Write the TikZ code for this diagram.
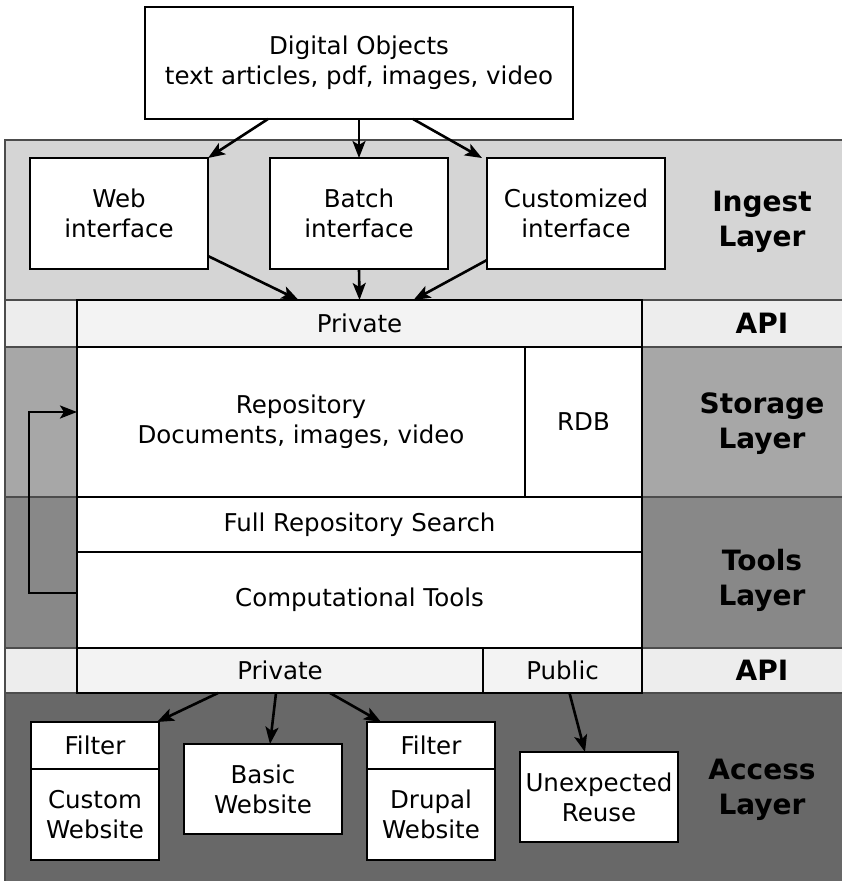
\documentclass[tikz,border=0pt]{standalone}
\usepackage{fontspec}
\setmainfont{DejaVu Sans}
\usetikzlibrary{arrows.meta}

\definecolor{ingestgray}{HTML}{D5D5D5}
\definecolor{apigray}{HTML}{EDEDED}
\definecolor{storagegray}{HTML}{A7A7A7}
\definecolor{toolsgray}{HTML}{888888}
\definecolor{accessgray}{HTML}{686868}
\definecolor{privfill}{HTML}{F3F3F3}

\tikzset{
  band/.style={draw=black!70, line width=1.4pt},
  blk/.style={draw, line width=2pt, fill=white, inner sep=0pt, outer sep=0pt,
    align=center, font=\fontsize{24.5}{30}\selectfont},
  layerlbl/.style={align=center, font=\fontsize{28}{35}\selectfont\bfseries},
  arr/.style={-{Stealth[length=17pt,width=13pt,inset=4pt]}, line width=2.6pt},
}

\begin{document}
\begin{tikzpicture}[x=1pt,y=-1pt]
  \useasboundingbox (0,0) rectangle (841,881);
  % layer bands
  \fill[white] (0,0) rectangle (841,881);
  \draw[band, fill=ingestgray]  (5,140) rectangle (845,300);
  \draw[band, fill=apigray]     (5,300) rectangle (845,347);
  \draw[band, fill=storagegray] (5,347) rectangle (845,497);
  \draw[band, fill=toolsgray]   (5,497) rectangle (845,648);
  \draw[band, fill=apigray]     (5,648) rectangle (845,693);
  \draw[band, fill=accessgray]  (5,693) rectangle (845,885);
  % layer labels
  \node[layerlbl] (ingestlbl)  at (762,222)   {Ingest\\Layer};
  \node[layerlbl] (api1lbl)    at (762,323.5) {API};
  \node[layerlbl] (storagelbl) at (762,424)   {Storage\\Layer};
  \node[layerlbl] (toolslbl)   at (762,580)   {Tools\\Layer};
  \node[layerlbl] (api2lbl)    at (762,670.5) {API};
  \node[layerlbl] (accesslbl)  at (762,790)   {Access\\Layer};
  % source
  \node[blk, minimum width=428pt, minimum height=112pt] (digital) at (359,63)
    {Digital Objects\\text articles, pdf, images, video};
  % ingest interfaces
  \node[blk, minimum width=178pt, minimum height=111pt] (web)   at (119,213.5) {Web\\interface};
  \node[blk, minimum width=178pt, minimum height=111pt] (batch) at (359,213.5) {Batch\\interface};
  \node[blk, minimum width=178pt, minimum height=111pt] (cust)  at (576,213.5) {Customized\\interface};
  % core stack
  \node[blk, fill=privfill, minimum width=565pt, minimum height=47pt] (privin) at (359.5,323.5) {Private};
  \node[blk, minimum width=448pt, minimum height=150pt] (repo) at (301,422)
    {Repository\\Documents, images, video};
  \node[blk, minimum width=117pt, minimum height=150pt] (rdb) at (583.5,422) {RDB};
  \node[blk, minimum width=565pt, minimum height=55pt] (search) at (359.5,524.5) {Full Repository Search};
  \node[blk, minimum width=565pt, minimum height=96pt] (comp) at (359.5,600) {Computational Tools};
  \node[blk, fill=privfill, minimum width=406pt, minimum height=45pt] (privout) at (280,670.5) {Private};
  \node[blk, fill=privfill, minimum width=159pt, minimum height=45pt] (pub) at (562.5,670.5) {Public};
  % access clients
  \node[blk, minimum width=128pt, minimum height=47pt] (filtcust) at (95,745.5) {Filter};
  \node[blk, minimum width=128pt, minimum height=91pt] (custweb)  at (95,814.5) {Custom\\Website};
  \node[blk, minimum width=158pt, minimum height=90pt] (basic)    at (263,789) {Basic\\Website};
  \node[blk, minimum width=128pt, minimum height=47pt] (filtdrup) at (431,745.5) {Filter};
  \node[blk, minimum width=128pt, minimum height=91pt] (drupweb)  at (431,814.5) {Drupal\\Website};
  \node[blk, minimum width=158pt, minimum height=90pt] (reuse)    at (599,797) {Unexpected\\Reuse};
  % ingest arrows
  \draw[arr] ([xshift=-91pt]digital.south) -- (web.north east);
  \draw[arr] (digital.south) -- (batch.north);
  \draw[arr] ([xshift=54pt]digital.south) -- ([xshift=-5pt]cust.north west);
  \draw[arr] ([yshift=13pt]web.south east) -- ([xshift=-61pt]privin.north);
  \draw[arr] (batch.south) -- (privin.north);
  \draw[arr] ([yshift=9pt]cust.south west) -- ([xshift=54pt]privin.north);
  % feedback loop
  \draw[arr] ([yshift=7pt]comp.west) -- ++(-48,0) |- ([yshift=10pt]repo.west);
  % access arrows
  \draw[arr] ([xshift=-62pt]privout.south) -- ([xshift=-2pt]filtcust.north east);
  \draw[arr] ([xshift=-4pt]privout.south) -- ([xshift=7pt]basic.north);
  \draw[arr] ([xshift=50pt]privout.south) -- ([xshift=-50pt]filtdrup.north);
  \draw[arr] ([xshift=7pt]pub.south) -- ([xshift=-14pt]reuse.north);
\end{tikzpicture}
\end{document}
